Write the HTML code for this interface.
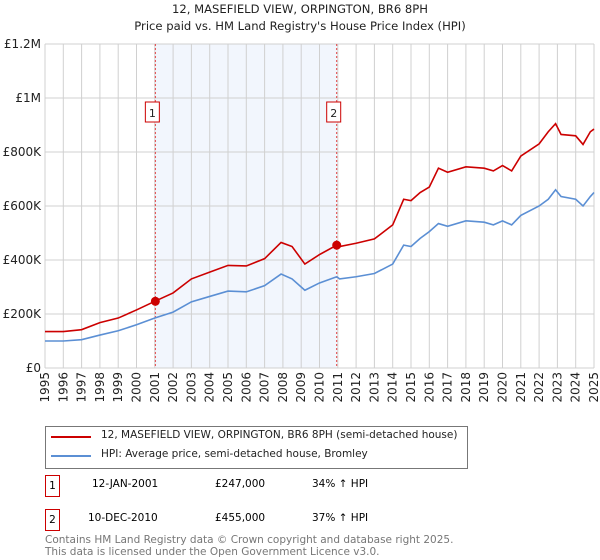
<!DOCTYPE html>
<html><head><meta charset="utf-8"><style>
body{margin:0;background:#fff;font-family:"DejaVu Sans","Liberation Sans",sans-serif;}
#w{position:relative;width:600px;height:560px;overflow:hidden}
.t{position:absolute;white-space:nowrap}
</style></head><body><div id="w">
<svg id="s" width="600" height="560" style="position:absolute;left:0;top:0;font-family:'DejaVu Sans',sans-serif"></svg>
</div>
<script>
const years=[1995,1996,1997,1998,1999,2000,2001,2002,2003,2004,2005,2006,2007,2007.9,2008.5,2009.2,2010,2010.94,2011.1,2012,2013,2014,2014.6,2015,2015.5,2016,2016.5,2017,2018,2019,2019.5,2020,2020.5,2021,2022,2022.5,2022.9,2023.2,2024,2024.4,2024.8,2025];
const hpi=[100,100,105,122,138,160,185,207,245,265,285,282,305,348,330,288,315,338,330,338,350,385,455,450,480,505,535,525,545,540,530,545,530,565,600,625,660,635,625,600,635,650];
const prop=[135,135,142,168,185,215,247,278,330,355,380,378,405,465,450,385,420,455,450,462,478,530,625,620,650,670,740,725,745,740,730,750,730,785,830,875,905,865,860,828,875,885];
const sales=[{x:2001.03,v:247,l:"1"},{x:2010.94,v:455,l:"2"}];
const yTicks=[0,200,400,600,800,1000,1200];
const yLabels=["£0","£200K","£400K","£600K","£800K","£1M","£1.2M"];
const X0=45,X1=594,Y0=368,Y1=44;
const xs=y=>X0+(y-1995)/30*(X1-X0);
const ys=v=>Y0-v/1200*(Y0-Y1);
const s=document.getElementById('s');const NS="http://www.w3.org/2000/svg";
function el(t,a,p){const e=document.createElementNS(NS,t);for(const k in a)e.setAttribute(k,a[k]);(p||s).appendChild(e);return e;}
let e;
e=el('rect',{x:xs(sales[0].x),y:Y1,width:xs(sales[1].x)-xs(sales[0].x),height:Y0-Y1,fill:'#f2f6fd'});


for(let y=1995;y<=2025;y++){e=el('line',{x1:xs(y),x2:xs(y),y1:Y1,y2:Y0,stroke:'#d0d0d0','stroke-width':1});


e=el('text',{x:0,y:0,transform:`translate(${xs(y)+4},${Y0+4}) rotate(-90)`,'text-anchor':'end','font-size':12,fill:'#222'});e.textContent=y;

}
yTicks.forEach((v,i)=>{e=el('line',{x1:X0,x2:X1,y1:ys(v),y2:ys(v),stroke:'#d0d0d0','stroke-width':1});


e=el('text',{x:X0-4,y:ys(v)+4,'text-anchor':'end','font-size':12,fill:'#222'});e.textContent=yLabels[i];

});
sales.forEach(d=>{e=el('line',{x1:xs(d.x),x2:xs(d.x),y1:Y1,y2:Y0,stroke:'#e04040','stroke-width':1,'stroke-dasharray':'2,2'});

});
function line(arr,c,n){e=el('polyline',{points:years.map((y,i)=>xs(y)+','+ys(arr[i])).join(' '),fill:'none',stroke:c,'stroke-width':1.6});

}
line(hpi,'#5b8fd4','hpi-line');line(prop,'#cc0000','property-line');
sales.forEach(d=>{e=el('circle',{cx:xs(d.x),cy:ys(d.v),r:4.5,fill:'#cc0000'});


e=el('rect',{x:xs(d.x)-10,y:102,width:14,height:20,fill:'#fff',stroke:'#cc0000'});


e=el('text',{x:xs(d.x)-3,y:117,'text-anchor':'middle','font-size':11,fill:'#222'});e.textContent=d.l;

});
</script>
<div class="t" style="left:0;width:600px;text-align:center;top:2px;font-size:11.6px;color:#222">12, MASEFIELD VIEW, ORPINGTON, BR6 8PH</div>
<div class="t" style="left:0;width:600px;text-align:center;top:19px;font-size:11.6px;color:#222">Price paid vs. HM Land Registry's House Price Index (HPI)</div>
<div class="t" style="left:45px;top:426px;width:421px;height:41px;border:1px solid #777;font-size:10.5px;color:#222">
<div style="position:absolute;left:5px;top:9px;width:40px;height:2px;background:#cc0000"></div>
<div class="t" style="left:55px;top:2px">12, MASEFIELD VIEW, ORPINGTON, BR6 8PH (semi-detached house)</div>
<div style="position:absolute;left:5px;top:28px;width:40px;height:2px;background:#5b8fd4"></div>
<div class="t" style="left:55px;top:21px">HPI: Average price, semi-detached house, Bromley</div>
</div>
<div class="t" style="left:45px;top:475px;width:13px;height:20px;border:1px solid #cc0000;font-size:10.5px;text-align:center;line-height:20px">1</div>
<div class="t" style="left:92px;top:478px;font-size:10.5px">12-JAN-2001</div>
<div class="t" style="left:215px;top:478px;font-size:10.5px">£247,000</div>
<div class="t" style="left:312px;top:478px;font-size:10.5px">34% ↑ HPI</div>
<div class="t" style="left:45px;top:509px;width:13px;height:20px;border:1px solid #cc0000;font-size:10.5px;text-align:center;line-height:20px">2</div>
<div class="t" style="left:88px;top:512px;font-size:10.5px">10-DEC-2010</div>
<div class="t" style="left:215px;top:512px;font-size:10.5px">£455,000</div>
<div class="t" style="left:312px;top:512px;font-size:10.5px">37% ↑ HPI</div>
<div class="t" style="left:45px;top:534px;font-size:10.5px;color:#777;line-height:12px">Contains HM Land Registry data © Crown copyright and database right 2025.<br>This data is licensed under the Open Government Licence v3.0.</div>
</body></html>
